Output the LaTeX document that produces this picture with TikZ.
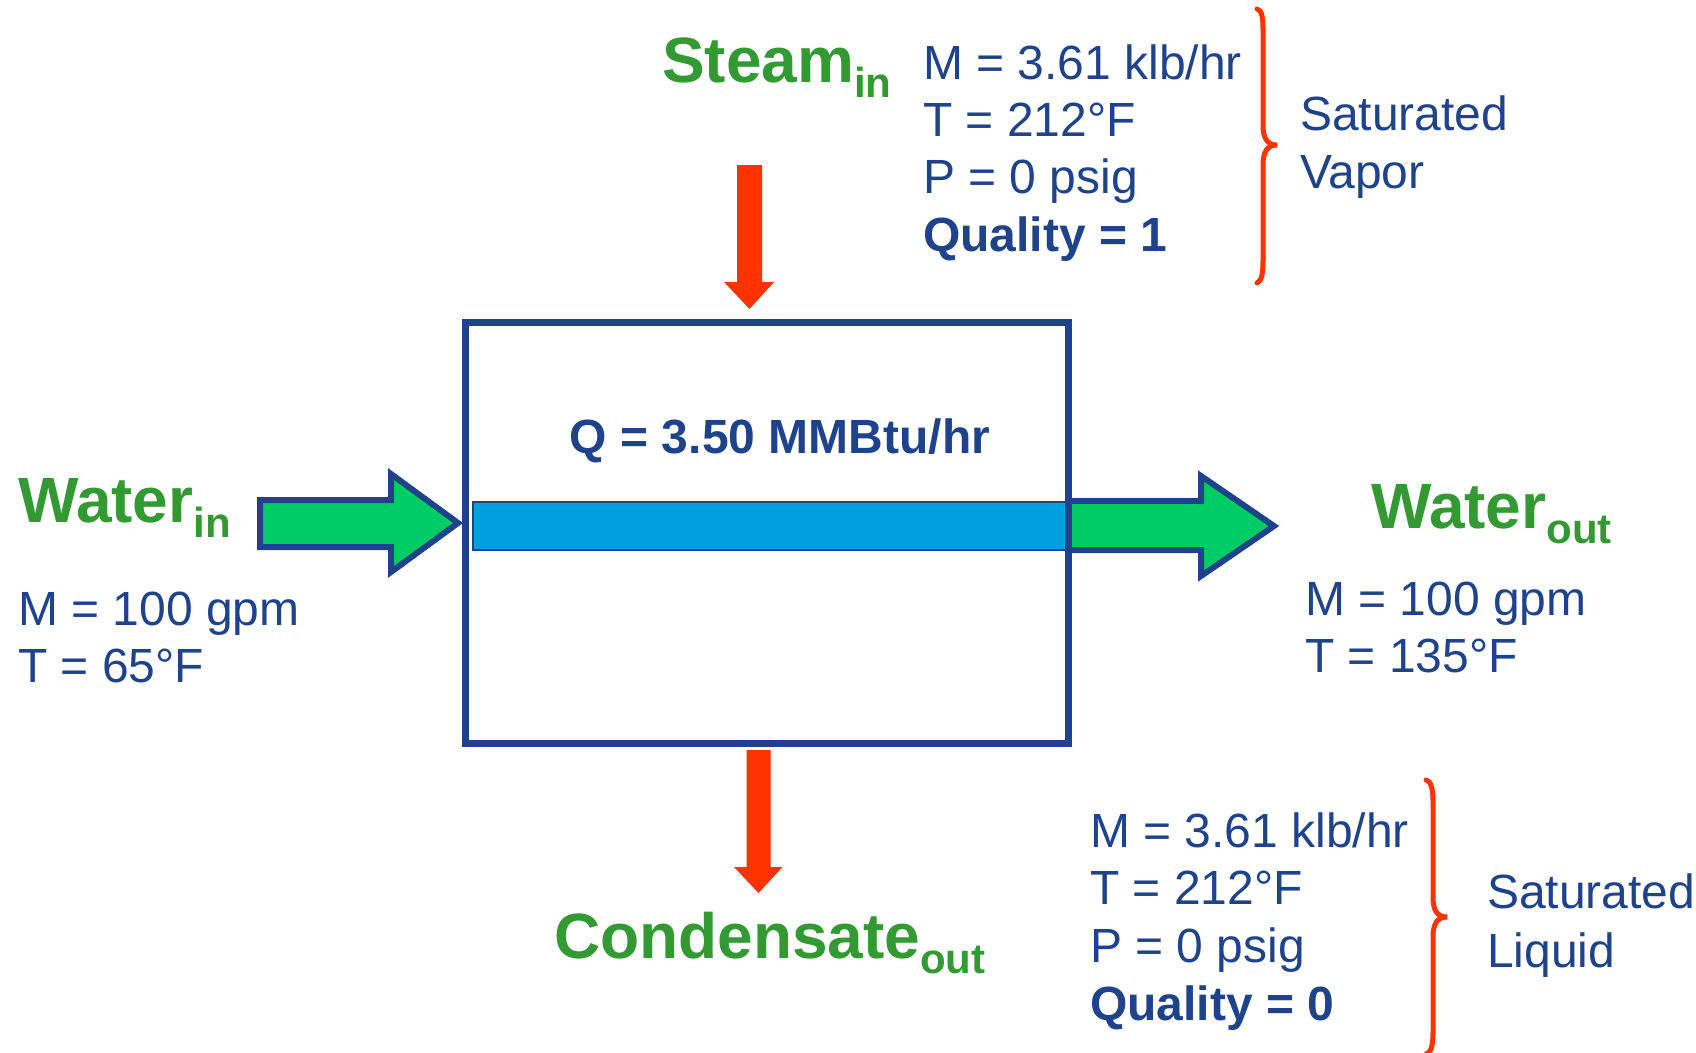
\documentclass[tikz,border=0pt]{standalone}
\usepackage{fontspec}
\setmainfont{Liberation Sans}
\definecolor{tblue}{RGB}{31,67,138}
\definecolor{tgreen}{RGB}{51,153,51}
\definecolor{agreen}{RGB}{0,204,102}
\definecolor{tubeblue}{RGB}{0,160,224}
\definecolor{ared}{RGB}{255,51,0}
\newcommand{\mysub}[1]{\raisebox{-15pt}{\fontsize{42}{42}\selectfont #1}}
\begin{document}
\begin{tikzpicture}[x=1pt,y=-1pt,
  lbl/.style={anchor=base west, inner sep=0, outer sep=0, text=tblue, font=\fontsize{48}{57}\selectfont},
  lblb/.style={lbl, font=\fontsize{48}{57}\selectfont\bfseries},
  big/.style={anchor=base west, inner sep=0, outer sep=0, text=tgreen, font=\fontsize{64}{64}\selectfont\bfseries},
  blockarrow/.style={fill=agreen, draw=tblue, line width=6, line join=miter},
  redarrow/.style={fill=ared},
  bracestyle/.style={draw=ared, line width=5, line cap=round},
  hxbox/.style={draw=tblue, line width=7, fill=none, minimum width=603, minimum height=421, inner sep=0}
]
\useasboundingbox (0,0) rectangle (1696,1052);

% tube
\draw[fill=tubeblue, draw=tblue, line width=2] (473,502) rectangle (1066,550);

% water in arrow
\draw[blockarrow] (260,500) -- (391,500) -- (391,474) -- (458,523) -- (391,572) -- (391,547) -- (260,547) -- cycle;
% water out arrow
\draw[blockarrow] (1068,501) -- (1201,501) -- (1201,476) -- (1274,526) -- (1201,576) -- (1201,550) -- (1068,550);
\fill[agreen] (1071,504) rectangle (1198,547);

% heat exchanger box
\node[hxbox] (hx) at (767,533) {};
\node[lblb, anchor=base] (q) at (780,453) {Q = 3.50 MMBtu/hr};

% steam in arrow
\fill[redarrow] (737,165) -- (762,165) -- (762,282) -- (774,282) -- (749.5,309) -- (724,282) -- (737,282) -- cycle;
% condensate out arrow
\fill[redarrow] (746.5,750) -- (770.5,750) -- (770.5,867) -- (782.5,867) -- (758.5,893) -- (734,867) -- (746.5,867) -- cycle;

% labels
\node[big] (steamlbl) at (662,82) {Steam\mysub{in}};
\node[big] (winlbl) at (18,522) {Water\mysub{in}};
\node[big] (woutlbl) at (1371,528) {Water\mysub{out}};
\node[big] (condlbl) at (554,958) {Condensate\mysub{out}};

% steam data
\node[lbl] (s1) at (923,79) {M = 3.61 klb/hr};
\node[lbl] (s2) at (923,136.3) {T = 212°F};
\node[lbl] (s3) at (923,193.6) {P = 0 psig};
\node[lblb] (s4) at (923,251) {Quality = 1};
\node[lbl] (sv1) at (1300,130) {Saturated};
\node[lbl] (sv2) at (1300,188) {Vapor};

% water in data
\node[lbl] (w1) at (18,625) {M = 100 gpm};
\node[lbl] (w2) at (18,682) {T = 65°F};
% water out data
\node[lbl] (o1) at (1305,615) {M = 100 gpm};
\node[lbl] (o2) at (1305,672) {T = 135°F};

% condensate data
\node[lbl] (c1) at (1090,847) {M = 3.61 klb/hr};
\node[lbl] (c2) at (1090,904.7) {T = 212°F};
\node[lbl] (c3) at (1090,962.3) {P = 0 psig};
\node[lblb] (c4) at (1090,1020) {Quality = 0};
\node[lbl] (sl1) at (1487,908) {Saturated};
\node[lbl] (sl2) at (1487,967) {Liquid};

% braces
\draw[bracestyle] (1257,9) .. controls (1262,10) and (1263,18) .. (1263,30) -- (1263,125)
  .. controls (1263,138) and (1267,145) .. (1277,145)
  .. controls (1267,145) and (1263,152) .. (1263,165) -- (1263,260)
  .. controls (1263,272) and (1262,281) .. (1257,283);
\draw[bracestyle] (1426,780) .. controls (1431,781) and (1433,789) .. (1433,801) -- (1433,897)
  .. controls (1433,910) and (1437,917) .. (1447,917)
  .. controls (1437,917) and (1433,924) .. (1433,937) -- (1433,1033)
  .. controls (1433,1045) and (1431,1053) .. (1426,1054);
\end{tikzpicture}
\end{document}
